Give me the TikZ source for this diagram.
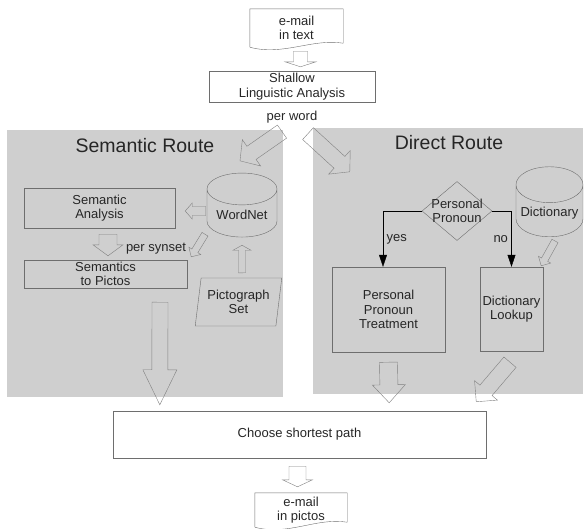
\documentclass[tikz,border=0pt]{standalone}
\usepackage{fontspec}
\setmainfont{Liberation Sans}
\usetikzlibrary{shapes.geometric,arrows.meta,calc}

% hollow block arrow: from, to, shaft half width, head half width, head length
\newcommand{\hollowarrow}[5]{%
  \draw[hollow] let \p1=#1, \p2=#2, \n1={atan2(\y2-\y1,\x2-\x1)}, \n2={veclen(\x2-\x1,\y2-\y1)} in
    [shift={(\p1)}, rotate=\n1]
    (0pt,#3pt) -- ({\n2*1pt-#5pt},#3pt) -- ({\n2*1pt-#5pt},#4pt) -- ({\n2*1pt},0pt)
    -- ({\n2*1pt-#5pt},-#4pt) -- ({\n2*1pt-#5pt},-#3pt) -- (0pt,-#3pt) -- cycle;
}

\begin{document}
\begin{tikzpicture}[x=1pt,y=-1pt,font=\fontsize{13}{14.5}\selectfont,text=black!85]
% Styles
\tikzset{
  box/.style={rectangle, draw=black!57, align=center, inner sep=1pt},
  panel/.style={rectangle, fill=black!19},
  title/.style={font=\fontsize{19.5}{21}\selectfont},
  store/.style={cylinder, shape border rotate=90, draw=black!57, aspect=0.6, align=center, inner sep=1pt},
  doc/.style={rectangle, align=center, inner sep=1pt},
  docline/.style={draw=black!57},
  hollow/.style={draw=black!50},
  flow/.style={draw=black, -{Triangle[length=12pt,width=8pt]}}
}
\useasboundingbox (0,0) rectangle (584,528);

% Panels
\node[panel, minimum width=276, minimum height=267] (sempanel) at (145,263.5) {};
\node[panel, minimum width=270, minimum height=266] (dirpanel) at (448,261) {};
\node[title] (semtitle) at (145,146) {Semantic Route};
\node[title] (dirtitle) at (449,143) {Direct Route};

% Input and shallow analysis
\node[doc, minimum width=93, minimum height=38] (email) at (296.5,28) {e-mail\\in text};
\draw[docline] (email.south west) -- (email.north west) -- (email.north east)
  -- ([yshift=4pt]email.south east) .. controls +(-31,-5) and +(33,9) .. (email.south west);
\node[box, minimum width=166, minimum height=31] (shallow) at (292,86.5) {Shallow\\Linguistic Analysis};
\node (perword) at (292,117) {per word};

% Semantic route
\node[box, minimum width=151, minimum height=40] (semana) at (99.5,208) {Semantic\\Analysis};
\node[store, minimum width=70, minimum height=64] (wordnet) at (242,215) {WordNet};
\node[box, minimum width=163, minimum height=28] (sempic) at (105.5,274) {Semantics\\to Pictos};
\node (persynset) at (156,249) {per synset};
\node[trapezium, trapezium left angle=79, trapezium right angle=101, trapezium stretches=true,
  draw=black!57, align=center, inner sep=1pt, minimum width=87, minimum height=48] (pictoset) at (238.5,302) {Pictograph\\Set};

% Direct route
\node[diamond, draw=black!57, minimum width=70, minimum height=59, inner sep=0pt,
  label={[align=center]center:Personal\\Pronoun}] (pronoun) at (457,211) {};
\node[store, minimum width=67, minimum height=70] (dict) at (549.5,213) {Dictionary};
\node[box, minimum width=113, minimum height=85] (pronproc) at (388.5,309.5) {Personal\\Pronoun\\Treatment};
\node[box, minimum width=63, minimum height=84] (lookup) at (511.5,309) {Dictionary\\Lookup};

% Output
\node[box, minimum width=373, minimum height=47] (choose) at (299.5,434.5) {Choose shortest path};
\node[doc, minimum width=92, minimum height=34] (pictos) at (301,510) {e-mail\\in pictos};
\draw[docline] (pictos.south west) -- (pictos.north west) -- (pictos.north east)
  -- ([yshift=5pt]pictos.south east) .. controls +(-31,-5) and +(33,9) .. (pictos.south west);

% Flow
\draw[flow] (pronoun.west) -| ([xshift=-5.5pt]pronproc.north) node[pos=0.75, right] {yes};
\draw[flow] (pronoun.east) -| (lookup.north) node[pos=0.75, left] {no};

\hollowarrow{($(email.south)+(4,4)$)}{($(shallow.north)+(8.5,-4)$)}{7}{15.5}{5}
\hollowarrow{($(perword.south)+(-10,5)$)}{($(wordnet.north)+(-2,-12)$)}{8}{16}{14}
\hollowarrow{($(perword.south)+(16,7)$)}{($(dirpanel.north west)+(37,44)$)}{8}{16}{14}
\hollowarrow{($(wordnet.west)+(-1,-4)$)}{($(semana.east)+(10,3)$)}{4.5}{8}{7}
\hollowarrow{($(semana.south)+(8.5,6)$)}{($(sempic.north)+(2.5,-4)$)}{9}{15}{11}
\hollowarrow{($(wordnet.south)+(-37,-3)$)}{($(sempic.north east)+(4,-3)$)}{3.5}{7}{7}
\hollowarrow{($(pictoset.north)+(3.5,-5)$)}{($(wordnet.south)+(0,8)$)}{3.5}{9}{5}
\hollowarrow{($(sempic.south)+(54.5,14)$)}{($(choose.north west)+(47,-6)$)}{8}{17}{35}
\hollowarrow{($(pronproc.south)+(0,10)$)}{($(choose.north east)+(-97,-8)$)}{9}{16.5}{18}
\hollowarrow{($(lookup.south)+(-1.5,11)$)}{($(choose.north east)+(-10,-9)$)}{8}{15}{15}
\hollowarrow{($(dict.south)+(5.5,4)$)}{($(lookup.north east)+(-2,-1)$)}{3.5}{7}{7}
\hollowarrow{($(choose.south)+(-2,8)$)}{($(pictos.north)+(-3.5,-6)$)}{8.5}{15}{7}

\end{tikzpicture}
\end{document}
